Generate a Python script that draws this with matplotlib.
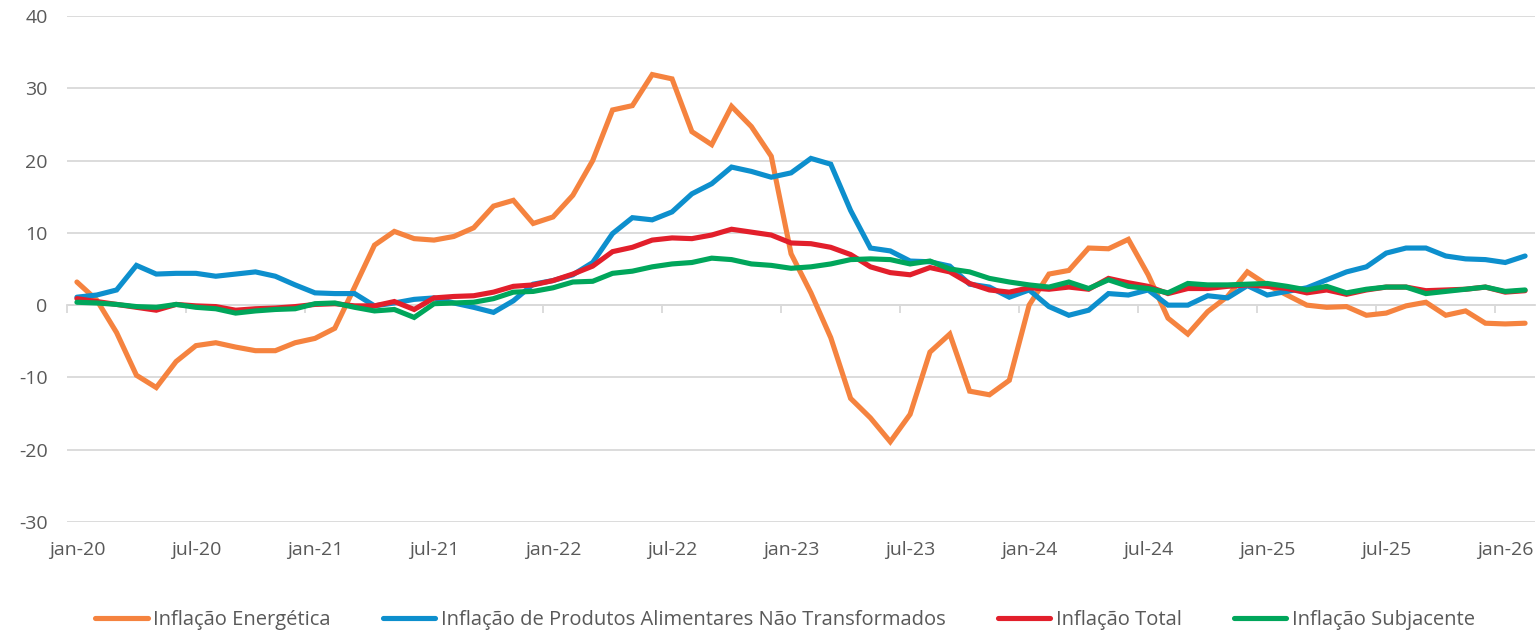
import matplotlib
matplotlib.use("Agg")
import matplotlib.pyplot as plt

plt.rcParams['font.family'] = ['Open Sans', 'DejaVu Sans']
plt.rcParams['axes.unicode_minus'] = False

meses = ['jan', 'fev', 'mar', 'abr', 'mai', 'jun', 'jul', 'ago', 'set', 'out', 'nov', 'dez']
datas = [f'{m}-{a:02d}' for a in range(20, 27) for m in meses][:74]

energia = [3.2, 0.7, -3.8, -9.7, -11.4, -7.8, -5.6, -5.2, -5.8, -6.3,
           -6.3, -5.2, -4.6, -3.2, 2.5, 8.3, 10.2, 9.2, 9.0, 9.5,
           10.7, 13.7, 14.5, 11.3, 12.2, 15.2, 20.0, 27.0, 27.6, 31.9,
           31.3, 24.0, 22.2, 27.5, 24.7, 20.6, 7.1, 1.7, -4.5, -12.9,
           -15.6, -18.9, -15.1, -6.5, -4.0, -11.9, -12.4, -10.4, 0.0, 4.3,
           4.8, 7.9, 7.8, 9.1, 4.2, -1.8, -4.0, -0.9, 1.2, 4.6,
           2.8, 1.4, 0.0, -0.3, -0.2, -1.4, -1.1, -0.1, 0.4, -1.4,
           -0.8, -2.5, -2.6, -2.5]
alimentares = [1.1, 1.4, 2.1, 5.5, 4.3, 4.4, 4.4, 4.0, 4.3, 4.6,
               4.0, 2.8, 1.7, 1.6, 1.6, -0.1, 0.3, 0.8, 1.0, 0.3,
               -0.3, -1.0, 0.6, 2.9, 3.4, 4.2, 5.9, 9.9, 12.1, 11.8,
               12.9, 15.4, 16.8, 19.1, 18.5, 17.7, 18.3, 20.3, 19.5, 13.1,
               7.9, 7.5, 6.1, 6.0, 5.4, 2.9, 2.5, 1.1, 2.1, -0.2,
               -1.4, -0.7, 1.6, 1.4, 2.1, 0.0, 0.0, 1.3, 1.0, 2.7,
               1.4, 1.9, 2.4, 3.5, 4.6, 5.3, 7.2, 7.9, 7.9, 6.8,
               6.4, 6.3, 5.9, 6.8]
total = [0.9, 0.5, 0.1, -0.3, -0.7, 0.1, -0.1, -0.2, -0.7, -0.5,
         -0.4, -0.2, 0.1, 0.2, -0.1, -0.1, 0.5, -0.6, 1.0, 1.2,
         1.3, 1.8, 2.6, 2.8, 3.4, 4.3, 5.4, 7.4, 8.0, 9.0,
         9.3, 9.2, 9.7, 10.5, 10.1, 9.7, 8.6, 8.5, 8.0, 7.0,
         5.3, 4.5, 4.2, 5.2, 4.6, 3.0, 2.1, 1.8, 2.4, 2.2,
         2.5, 2.2, 3.7, 3.1, 2.6, 1.6, 2.3, 2.3, 2.6, 2.8,
         2.6, 2.3, 1.7, 2.1, 1.5, 2.1, 2.5, 2.5, 2.0, 2.1,
         2.2, 2.5, 1.8, 2.0]
subjacente = [0.4, 0.3, 0.1, -0.2, -0.3, 0.1, -0.3, -0.5, -1.1, -0.8,
              -0.6, -0.5, 0.2, 0.3, -0.3, -0.8, -0.6, -1.7, 0.2, 0.3,
              0.4, 0.9, 1.8, 1.9, 2.4, 3.2, 3.3, 4.4, 4.7, 5.3,
              5.7, 5.9, 6.5, 6.3, 5.7, 5.5, 5.1, 5.3, 5.7, 6.3,
              6.4, 6.3, 5.7, 6.1, 5.0, 4.6, 3.7, 3.2, 2.8, 2.5,
              3.2, 2.3, 3.5, 2.6, 2.3, 1.7, 3.0, 2.8, 2.8, 2.9,
              3.0, 2.6, 2.1, 2.6, 1.7, 2.2, 2.5, 2.5, 1.6, 1.9,
              2.2, 2.5, 1.9, 2.1]

series = [
    ('Inflação Energética', energia, '#F5833F'),
    ('Inflação de Produtos Alimentares Não Transformados', alimentares, '#0D8FCD'),
    ('Inflação Total', total, '#E21F2B'),
    ('Inflação Subjacente', subjacente, '#00A65B'),
]

cinza = '#595959'
grelha = '#D9D9D9'
fs = 14

fig = plt.figure(figsize=(15.39, 6.32), dpi=100)
ax = fig.add_axes([67 / 1539, 1 - 522 / 632, (1535 - 67) / 1539, (522 - 16) / 632])

x = list(range(len(datas)))
for nome, vals, cor in series:
    ax.plot(x, vals, color=cor, lw=3.7, label=nome, zorder=3,
            solid_joinstyle='miter', solid_capstyle='round')

ax.set_xlim(-0.5, len(datas) - 0.5)
ax.set_ylim(-30, 40)
ax.set_yticks(range(-30, 41, 10))
ax.grid(axis='y', color=grelha, lw=1.3)
ax.set_axisbelow(True)
ax.tick_params(axis='y', length=0, pad=14, labelsize=fs, labelcolor=cinza)
for s in ['left', 'right', 'top']:
    ax.spines[s].set_visible(False)

# eixo horizontal na linha do zero, com marcas entre categorias
ax.spines['bottom'].set_position(('data', 0))
ax.spines['bottom'].set_color(grelha)
ax.spines['bottom'].set_linewidth(1.3)
ax.set_xticks([i - 0.5 for i in range(0, len(datas), 6)])
ax.tick_params(axis='x', length=6, width=1.3, color=grelha, labelbottom=False)

# rótulos das datas em baixo
sec = ax.secondary_xaxis('bottom')
sec.set_xticks(x[::6], datas[::6])
sec.tick_params(length=0, pad=14, labelsize=fs, labelcolor=cinza)
sec.spines['bottom'].set_visible(False)

fig.legend(loc='center', bbox_to_anchor=(785 / 1539, 1 - 620 / 632), ncol=4,
           frameon=False, fontsize=14.5, labelcolor=cinza, handlelength=2.6,
           handletextpad=0.27, columnspacing=2.6)

fig.savefig('out.png', dpi=100)
